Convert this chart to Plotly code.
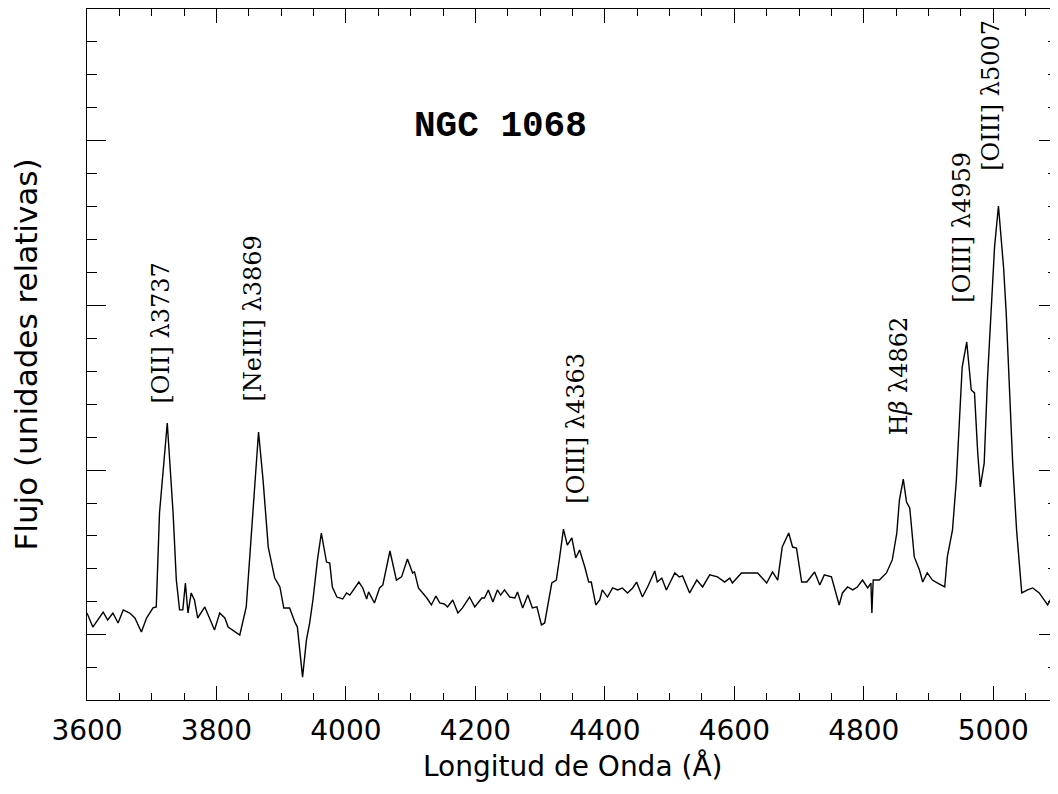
import plotly.graph_objects as go

# Wavelength (Angstrom) and relative flux
wavelength = [
    3600, 3609, 3625, 3632, 3640, 3648, 3656, 3666, 3674, 3684,
    3692, 3702, 3707, 3712, 3724, 3733, 3738, 3743, 3748, 3752,
    3756, 3761, 3766, 3771, 3782, 3790, 3797, 3805, 3813, 3818,
    3836, 3846, 3856, 3865, 3872, 3880, 3890, 3898, 3904, 3913,
    3921, 3925, 3933, 3939, 3944, 3949, 3956, 3962, 3970, 3975,
    3979, 3986, 3995, 4001, 4006, 4013, 4020, 4026, 4032, 4035,
    4040, 4044, 4052, 4057, 4068, 4078, 4086, 4095, 4103, 4106,
    4112, 4125, 4132, 4139, 4145, 4152, 4157, 4165, 4173, 4180,
    4191, 4199, 4210, 4214, 4220, 4227, 4234, 4239, 4245, 4253,
    4261, 4265, 4273, 4281, 4288, 4295, 4302, 4307, 4318, 4325,
    4330, 4336, 4342, 4349, 4355, 4361, 4369, 4375, 4379, 4386,
    4392, 4396, 4404, 4412, 4420, 4427, 4435, 4443, 4449, 4458,
    4466, 4477, 4481, 4488, 4495, 4508, 4515, 4520, 4531, 4542,
    4551, 4562, 4574, 4585, 4593, 4597, 4611, 4623, 4636, 4650,
    4659, 4667, 4674, 4684, 4690, 4696, 4704, 4712, 4724, 4732,
    4739, 4750, 4755, 4762, 4767, 4775, 4783, 4790, 4798, 4806,
    4811, 4812.5, 4814.5, 4824, 4835, 4844, 4851, 4855, 4861, 4866,
    4871, 4878, 4886, 4891, 4898, 4906, 4914, 4925, 4929, 4937,
    4943, 4948, 4952, 4959, 4966, 4971, 4976, 4980, 4986, 4991,
    4997, 5002, 5008, 5013, 5016, 5020, 5025, 5030, 5036, 5044,
    5053, 5061, 5071, 5084, 5092, 5100,
]
flux = [
    0.133, 0.048, 0.139, 0.091, 0.133, 0.073, 0.152, 0.133, 0.103, 0.018,
    0.103, 0.164, 0.170, 0.739, 1.285, 0.739, 0.333, 0.152, 0.152, 0.315,
    0.133, 0.255, 0.212, 0.103, 0.170, 0.091, 0.030, 0.133, 0.103, 0.048,
    0.000, 0.170, 0.739, 1.230, 0.939, 0.533, 0.345, 0.291, 0.164, 0.164,
    0.079, 0.048, -0.255, -0.030, 0.073, 0.212, 0.455, 0.618, 0.442, 0.436,
    0.291, 0.230, 0.218, 0.255, 0.242, 0.279, 0.321, 0.285, 0.218, 0.261,
    0.224, 0.194, 0.285, 0.303, 0.509, 0.333, 0.352, 0.461, 0.376, 0.382,
    0.285, 0.224, 0.182, 0.236, 0.194, 0.188, 0.170, 0.212, 0.133, 0.164,
    0.230, 0.170, 0.224, 0.224, 0.273, 0.200, 0.273, 0.242, 0.273, 0.230,
    0.224, 0.261, 0.164, 0.242, 0.164, 0.170, 0.061, 0.073, 0.315, 0.333,
    0.467, 0.642, 0.545, 0.588, 0.467, 0.515, 0.412, 0.321, 0.321, 0.182,
    0.212, 0.273, 0.230, 0.285, 0.273, 0.285, 0.255, 0.285, 0.321, 0.230,
    0.291, 0.388, 0.321, 0.345, 0.273, 0.376, 0.352, 0.358, 0.255, 0.333,
    0.291, 0.364, 0.352, 0.321, 0.345, 0.315, 0.376, 0.376, 0.376, 0.315,
    0.382, 0.333, 0.533, 0.618, 0.533, 0.527, 0.321, 0.321, 0.382, 0.303,
    0.364, 0.352, 0.285, 0.182, 0.255, 0.291, 0.273, 0.291, 0.333, 0.285,
    0.315, 0.133, 0.333, 0.333, 0.376, 0.455, 0.618, 0.818, 0.945, 0.806,
    0.770, 0.473, 0.394, 0.321, 0.376, 0.333, 0.315, 0.291, 0.473, 0.636,
    0.939, 1.345, 1.624, 1.776, 1.485, 1.467, 1.103, 0.897, 1.042, 1.545,
    1.952, 2.352, 2.600, 2.394, 2.224, 1.952, 1.442, 1.042, 0.636, 0.255,
    0.273, 0.285, 0.255, 0.182, 0.242, 0.255,
]

# Emission-line labels: text, wavelength position, flux position
line_labels = ["[OII] λ3737", "[NeIII] λ3869", "[OIII] λ4363",
               "H<i>β</i> λ4862", "[OIII] λ4959", "[OIII] λ5007"]
label_wave = [3715, 3857, 4355, 4855, 4952, 4997]
label_flux = [1.83, 1.92, 1.255, 1.57, 2.47, 3.27]

x_ticks = [3600, 3800, 4000, 4200, 4400, 4600, 4800, 5000]

fig = go.Figure()
fig.add_trace(go.Scatter(
    x=wavelength, y=flux, mode="lines",
    line=dict(color="black", width=1.4),
    hoverinfo="skip", showlegend=False,
))

for txt, wx, fy in zip(line_labels, label_wave, label_flux):
    fig.add_annotation(
        x=wx, y=fy, xref="x", yref="y", text=txt, textangle=-90,
        showarrow=False, xanchor="center", yanchor="middle",
        font=dict(family="DejaVu Serif", size=24, color="black"),
    )

fig.add_annotation(
    x=4239, y=3.08, xref="x", yref="y", text="<b>NGC 1068</b>",
    showarrow=False, xanchor="center", yanchor="middle",
    font=dict(family="Liberation Mono", size=36, color="black"),
)

# x-axis title placed just below the tick labels
fig.add_annotation(
    x=0.5, y=-0.096, xref="paper", yref="paper",
    text="Longitud de Onda (Å)", showarrow=False,
    xanchor="center", yanchor="middle",
    font=dict(family="DejaVu Sans", size=28, color="black"),
)

axis_common = dict(
    showgrid=False, zeroline=False, showline=True,
    linecolor="black", linewidth=1.3, mirror="allticks",
    ticks="inside", tickcolor="black", tickwidth=1.2,
)

fig.update_layout(
    width=1050, height=786,
    margin=dict(l=79, r=0, t=1, b=94),
    paper_bgcolor="white", plot_bgcolor="white",
    xaxis=dict(
        range=[3600, 5100], tickvals=x_ticks, ticklen=14,
        ticklabelstandoff=5,
        minor=dict(dtick=50, tick0=3600, ticklen=7, ticks="inside",
                   tickcolor="black", tickwidth=1.2),
        tickfont=dict(family="DejaVu Sans", size=28, color="black"),
        **axis_common,
    ),
    yaxis=dict(
        range=[-0.394, 3.794], tick0=0, dtick=1, ticklen=19,
        showticklabels=False,
        minor=dict(dtick=0.2, tick0=0, ticklen=10, ticks="inside",
                   tickcolor="black", tickwidth=1.2),
        title=dict(text="Flujo (unidades relativas)", standoff=42,
                   font=dict(family="DejaVu Sans", size=31, color="black")),
        **axis_common,
    ),
)

fig.write_html("out.html")
